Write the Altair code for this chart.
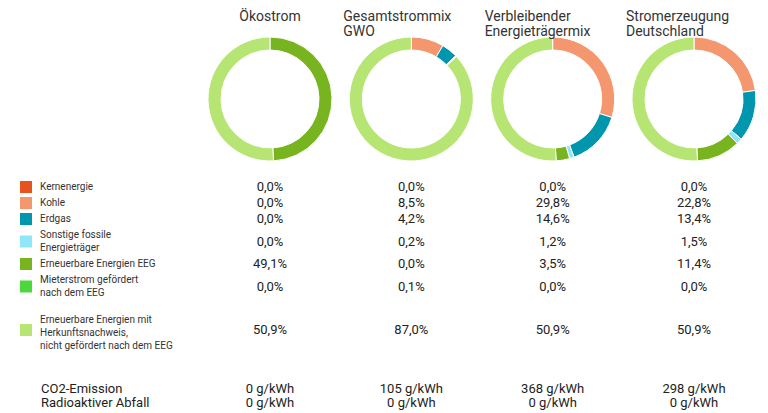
import altair as alt
import pandas as pd

# ---- data ----
mixes = ["oeko", "gwo", "verbl", "de"]
titles = ["Ökostrom", "Gesamtstrommix\nGWO", "Verbleibender\nEnergieträgermix", "Stromerzeugung\nDeutschland"]

cats = ["kern", "kohle", "erdgas", "sonst", "eeg", "mieter", "hkn"]
labels = [
    "Kernenergie",
    "Kohle",
    "Erdgas",
    "Sonstige fossile\nEnergieträger",
    "Erneuerbare Energien EEG",
    "Mieterstrom gefördert\nnach dem EEG",
    "Erneuerbare Energien mit\nHerkunftsnachweis,\nnicht gefördert nach dem EEG",
]
groups = ["A", "A", "A", "A", "A", "A", "B"]
colors = ["#E8521C", "#F4976F", "#0096AE", "#8EE6F8", "#78B41F", "#4CD83C", "#B6E573"]

oeko = [0.0, 0.0, 0.0, 0.0, 49.1, 0.0, 50.9]
gwo = [0.0, 8.5, 4.2, 0.2, 0.0, 0.1, 87.0]
verbl = [0.0, 29.8, 14.6, 1.2, 3.5, 0.0, 50.9]
de = [0.0, 22.8, 13.4, 1.5, 11.4, 0.0, 50.9]
series = [oeko, gwo, verbl, de]

metrics = ["CO2-Emission", "Radioaktiver Abfall"]
co2 = [0, 105, 368, 298]
radio = [0, 0, 0, 0]

# ---- tables built from the arrays ----
rows = []
for m, vals in zip(mixes, series):
    for i, (c, lab, g, v) in enumerate(zip(cats, labels, groups, vals)):
        rows.append({"mix": m, "cat": c, "label": lab, "group": g, "order": i,
                     "lines": lab.count("\n") + 1, "value": v})
long = pd.DataFrame(rows)

tdf = pd.DataFrame({"mix": mixes, "title": titles})

brows = []
for m, a, b in zip(mixes, co2, radio):
    brows.append({"mix": m, "metric": metrics[0], "val": a})
    brows.append({"mix": m, "metric": metrics[1], "val": b})
bdf = pd.DataFrame(brows)

FONT = "Roboto"

xs = alt.X("mix:N", scale=alt.Scale(type="point", domain=mixes, range=[262, 686], padding=0), axis=None)
col = alt.Color("cat:N", scale=alt.Scale(domain=cats, range=colors), legend=None)

# ---- donuts + titles ----
arcs = alt.Chart(long).transform_filter("datum.value > 0").transform_window(
    end="sum(value)", groupby=["mix"], sort=[alt.SortField("order")], frame=[None, 0]
).transform_calculate(start="datum.end - datum.value").mark_arc(
    innerRadius=49, outerRadius=62, stroke="white", strokeWidth=1
).encode(
    x=xs,
    y=alt.value(91),
    theta=alt.Theta("start:Q", scale=alt.Scale(domain=[0, 100]), stack=None),
    theta2="end:Q",
    color=col,
)

t_first = alt.Chart(tdf).transform_filter(alt.datum.mix == mixes[0]).mark_text(
    align="center", baseline="alphabetic", fontSize=14, lineHeight=15, lineBreak="\n",
    font=FONT, color="#333333"
).encode(x=xs, y=alt.value(12.5), text="title:N")

t_rest = alt.Chart(tdf).transform_filter(alt.datum.mix != mixes[0]).mark_text(
    align="left", baseline="alphabetic", fontSize=14, lineHeight=15, lineBreak="\n",
    font=FONT, color="#333333", dx=-68
).encode(x=xs, y=alt.value(12.5), text="title:N")

top = alt.layer(arcs, t_first, t_rest).properties(width=752, height=171)

# ---- legend table ----
HB = 172


def layout(ch):
    return ch.transform_calculate(
        h="3 + 13 * datum.lines",
        gap="datum.group == 'B' ? 8 : 0",
    ).transform_calculate(
        ht="datum.h + datum.gap"
    ).transform_window(
        cum="sum(ht)", groupby=["mix"], sort=[alt.SortField("order")], frame=[None, 0]
    ).transform_calculate(
        center="datum.cum - datum.h / 2",
        txt="replace(format(datum.value, '.1f'), '.', ',') + '%'",
    ).transform_calculate(
        ly="datum.center - (datum.lines - 1) * 6.5 + (datum.group == 'B' ? 3 : 0)"
    )


yscale = alt.Scale(domain=[0, HB], reverse=True, nice=False, zero=False)
yb = alt.Y("center:Q", scale=yscale, axis=None)
yl = alt.Y("ly:Q", scale=yscale, axis=None)

squares = layout(alt.Chart(long)).transform_filter(alt.datum.mix == mixes[0]).mark_square(
    size=144, opacity=1
).encode(x=alt.value(18), y=yb, color=col)

labtxt = layout(alt.Chart(long)).transform_filter(alt.datum.mix == mixes[0]).mark_text(
    align="left", baseline="middle", fontSize=10, lineHeight=13, lineBreak="\n",
    font=FONT, color="#333333"
).encode(x=alt.value(32), y=yl, text="label:N")

valtxt = layout(alt.Chart(long)).mark_text(
    align="center", baseline="middle", fontSize=13, font=FONT, color="#222222"
).encode(x=xs, y=yb, text="txt:N")

table = alt.layer(squares, labtxt, valtxt).properties(width=752, height=HB)

# ---- bottom rows ----
yc = alt.Y("metric:N", scale=alt.Scale(type="point", domain=metrics, range=[38, 52], padding=0), axis=None)

blab = alt.Chart(bdf).transform_filter(alt.datum.mix == mixes[0]).mark_text(
    align="left", baseline="middle", fontSize=13, font=FONT, color="#222222"
).encode(x=alt.value(33), y=yc, text="metric:N")

bval = alt.Chart(bdf).transform_calculate(txt="datum.val + ' g/kWh'").mark_text(
    align="center", baseline="middle", fontSize=13, font=FONT, color="#222222"
).encode(x=xs, y=yc, text="txt:N")

bottom = alt.layer(blab, bval).properties(width=752, height=60)

chart = alt.vconcat(top, table, bottom, spacing=0).properties(padding=0).configure(
    font=FONT
).configure_view(stroke=None)

chart.save("out.html", embed_options={"renderer": "svg", "actions": False})
